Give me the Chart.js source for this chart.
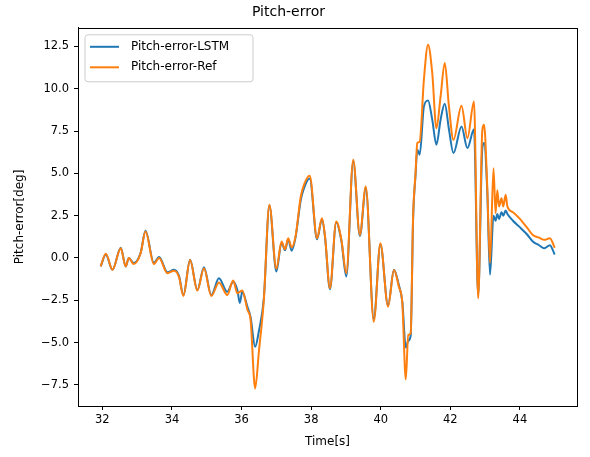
<!DOCTYPE html>
<html>
<head>
<meta charset="utf-8">
<script src="https://cdn.jsdelivr.net/npm/chart.js@4.4.1/dist/chart.umd.min.js"></script>
<style>
  html, body { margin: 0; padding: 0; background: #fff; }
  #wrap { width: 590px; height: 457px; position: relative; }
</style>
</head>
<body>
<div id="wrap"><canvas id="c" width="590" height="457"></canvas></div>
<script>
// ---- data ----
const chartTitle = 'Pitch-error';
const xTitle = 'Time[s]';
const yTitle = 'Pitch-error[deg]';
const seriesNames = ['Pitch-error-LSTM', 'Pitch-error-Ref'];

const time = [31.95, 32.1, 32.29, 32.53, 32.67, 32.76, 32.9, 33.1, 33.24, 33.48, 33.63, 33.87, 34.06, 34.2, 34.33,
  34.52, 34.73, 34.92, 35.13, 35.35, 35.59, 35.76, 35.88, 35.95, 36.02, 36.17, 36.26, 36.39, 36.5, 36.64,
  36.8, 37.0, 37.15, 37.25, 37.34, 37.44, 37.55, 37.7, 37.79, 37.96, 38.17, 38.31, 38.4, 38.54, 38.72,
  38.87, 39.01, 39.21, 39.4, 39.57, 39.8, 39.99, 40.21, 40.38, 40.52, 40.62, 40.72, 40.79, 40.86, 40.93,
  41.0, 41.05, 41.12, 41.24, 41.36, 41.48, 41.6, 41.72, 41.84, 41.96, 42.09, 42.32, 42.49, 42.68, 42.8,
  42.92, 42.97, 43.06, 43.14, 43.24, 43.3, 43.35, 43.4, 43.47, 43.52, 43.59, 43.64, 43.8, 43.98, 44.2,
  44.37, 44.55, 44.7, 44.86, 45.0];

const lstm = [-0.5, 0.2, -0.7, 0.6, -0.5, 0.0, -0.3, 0.3, 1.6, -0.3, 0.05, -0.85, -0.7, -1.05, -2.2,
  -0.1, -1.9, -0.55, -2.2, -1.2, -2.0, -1.4, -1.9, -2.66, -2.0, -2.9, -3.5, -5.25, -4.3, -2.4,
  3.1, -0.8, 0.9, 0.45, 1.1, 0.43, 1.2, 3.4, 4.1, 4.7, 1.1, 2.3, 1.2, -1.85, 2.1,
  1.0, -1.1, 5.7, 1.3, 4.1, -3.6, 0.8, -2.8, -0.7, -1.6, -2.6, -5.3, -4.9, -4.6, 2.3,
  4.9, 6.4, 6.1, 8.95, 9.31, 8.17, 6.69, 8.17, 9.11, 7.6, 6.2, 7.77, 6.49, 7.6, -2.2,
  6.5, 6.79, 4.0, -1.0, 2.5, 2.2, 2.6, 2.3, 2.7, 2.5, 2.8, 2.6, 2.2, 1.85, 1.4,
  0.97, 0.75, 0.57, 0.75, 0.2];

const ref = [-0.5, 0.24, -0.7, 0.57, -0.51, 0.0, -0.36, 0.28, 1.56, -0.36, 0.0, -0.9, -0.75, -1.1, -2.25,
  -0.12, -1.93, -0.61, -2.25, -1.45, -2.19, -1.34, -2.09, -2.0, -1.93, -3.08, -3.67, -7.71, -5.5, -2.49,
  3.14, -0.65, 0.97, 0.51, 1.16, 0.63, 1.26, 3.6, 4.3, 4.85, 1.16, 2.35, 1.26, -1.79, 2.15,
  1.07, -0.9, 5.8, 1.36, 4.22, -3.77, 0.87, -2.88, -0.71, -1.7, -2.68, -7.17, -4.56, -4.46, 2.44,
  5.01, 6.79, 6.88, 10.53, 12.6, 10.93, 7.67, 9.54, 11.52, 8.95, 6.98, 8.99, 7.08, 9.25, -2.39,
  7.57, 7.87, 4.22, -0.3, 5.3, 2.64, 4.0, 3.04, 3.53, 3.04, 3.73, 3.04, 2.7, 2.35, 1.8,
  1.36, 1.2, 1.07, 1.16, 0.6];

const xTicks = [32, 34, 36, 38, 40, 42, 44];
const yTicks = [-7.5, -5.0, -2.5, 0.0, 2.5, 5.0, 7.5, 10.0, 12.5];
// ---- end data ----

const FONT = 'DejaVu Sans';
const BLUE = '#1f77b4', ORANGE = '#ff7f0e';

const toPts = (ys) => time.map((t, i) => ({ x: t, y: ys[i] }));

const frame = {
  id: 'frame',
  afterDatasetsDraw(chart) {
    const { ctx, chartArea: a } = chart;
    ctx.save();
    ctx.strokeStyle = '#000';
    ctx.lineWidth = 1;
    ctx.strokeRect(Math.round(a.left) + 0.5, Math.round(a.top) + 0.5,
      Math.round(a.right - a.left), Math.round(a.bottom - a.top));
    ctx.restore();
  }
};

const legendBox = {
  id: 'legendBox',
  afterDraw(chart) {
    const { ctx, chartArea: a } = chart;
    const x = a.left + 7, y = a.top + 7, w = 168, h = 47, r = 3;
    ctx.save();
    ctx.fillStyle = 'rgba(255,255,255,0.8)';
    ctx.strokeStyle = '#cccccc';
    ctx.lineWidth = 1;
    ctx.beginPath();
    ctx.moveTo(x + r, y);
    ctx.arcTo(x + w, y, x + w, y + h, r);
    ctx.arcTo(x + w, y + h, x, y + h, r);
    ctx.arcTo(x, y + h, x, y, r);
    ctx.arcTo(x, y, x + w, y, r);
    ctx.closePath();
    ctx.fill();
    ctx.stroke();
    ctx.font = '12px "' + FONT + '"';
    ctx.textBaseline = 'middle';
    ctx.fillStyle = '#000';
    chart.data.datasets.forEach((ds, i) => {
      const ly = y + 12 + i * 20.5;
      ctx.strokeStyle = ds.borderColor;
      ctx.lineWidth = 2;
      ctx.beginPath();
      ctx.moveTo(x + 5, ly);
      ctx.lineTo(x + 34, ly);
      ctx.stroke();
      ctx.fillText(ds.label, x + 46, ly);
    });
    ctx.restore();
  }
};

new Chart(document.getElementById('c'), {
  type: 'line',
  data: {
    datasets: [
      { label: seriesNames[0], data: toPts(lstm), borderColor: BLUE, backgroundColor: BLUE, order: 1,
        borderWidth: 2, pointRadius: 0, cubicInterpolationMode: 'monotone', fill: false },
      { label: seriesNames[1], data: toPts(ref), borderColor: ORANGE, backgroundColor: ORANGE, order: 0,
        borderWidth: 2, pointRadius: 0, cubicInterpolationMode: 'monotone', fill: false }
    ]
  },
  options: {
    responsive: false,
    animation: false,
    events: [],
    layout: { padding: { left: 0, right: 13, top: 0, bottom: 0 } },
    plugins: {
      legend: { display: false },
      tooltip: { enabled: false },
      title: {
        display: true, text: chartTitle, color: '#000',
        font: { family: FONT, size: 14, weight: 'normal' },
        padding: { top: 4, bottom: 7 }
      }
    },
    scales: {
      x: {
        type: 'linear', min: 31.3, max: 45.64,
        afterBuildTicks: (s) => { s.ticks = xTicks.map(v => ({ value: v })); },
        afterFit: (s) => { s.height = 51; },
        ticks: { color: '#000', font: { family: FONT, size: 11.5 }, padding: 3,
          callback: (v) => String(v) },
        grid: { drawOnChartArea: false, drawTicks: true, tickLength: 4, color: '#000' },
        border: { display: true, color: '#000' },
        title: { display: true, text: xTitle, color: '#000',
          font: { family: FONT, size: 12 }, padding: { top: 0, bottom: 8 } }
      },
      y: {
        type: 'linear', min: -8.75, max: 13.6,
        afterBuildTicks: (s) => { s.ticks = yTicks.map(v => ({ value: v })); },
        afterFit: (s) => { s.width = 78; },
        ticks: { color: '#000', font: { family: FONT, size: 11.5 }, padding: 5,
          callback: (v) => (v < 0 ? '\u2212' : '') + Math.abs(v).toFixed(1) },
        grid: { drawOnChartArea: false, drawTicks: true, tickLength: 4, color: '#000' },
        border: { display: true, color: '#000' },
        title: { display: true, text: yTitle, color: '#000',
          font: { family: FONT, size: 12 }, padding: { top: 13, bottom: 0 } }
      }
    }
  },
  plugins: [frame, legendBox]
});
</script>
</body>
</html>
